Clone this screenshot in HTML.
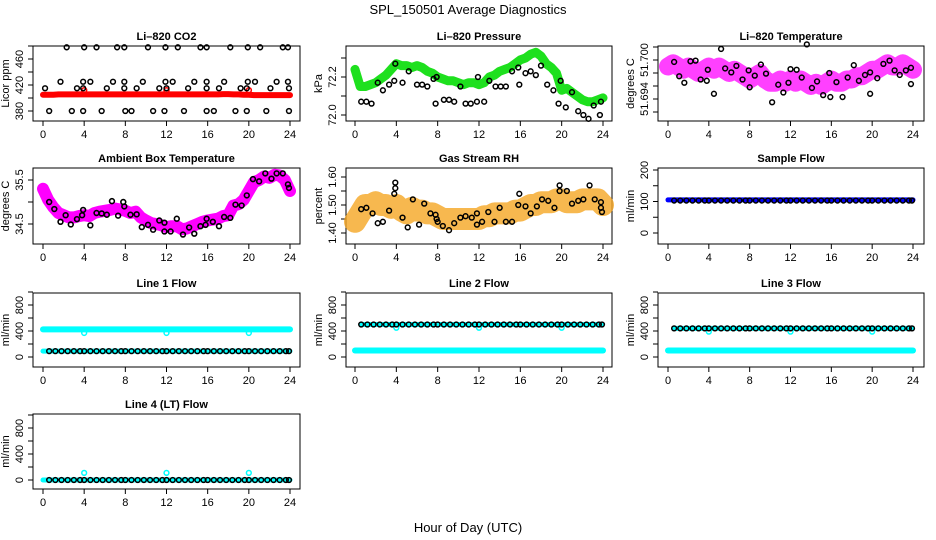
<!DOCTYPE html>
<html><head><meta charset="utf-8"><style>
html,body{margin:0;padding:0;background:#fff;}
svg{display:block;font-family:"Liberation Sans",Arial,sans-serif;}
</style></head><body>
<svg id="chart" width="936" height="540" viewBox="0 0 936 540">
<text x="468" y="14" text-anchor="middle" font-size="13">SPL_150501  Average Diagnostics</text>
<text x="468" y="532" text-anchor="middle" font-size="13">Hour of Day (UTC)</text>
</svg>
<script>
const hourTicks=[0,4,8,12,16,20,24];
const halfHours=[0,0.5,1,1.5,2,2.5,3,3.5,4,4.5,5,5.5,6,6.5,7,7.5,8,8.5,9,9.5,10,10.5,11,11.5,12,12.5,13,13.5,14,14.5,15,15.5,16,16.5,17,17.5,18,18.5,19,19.5,20,20.5,21,21.5,22,22.5,23,23.5,24];
const co2BlackX=[2.3,4.0,5.2,7.2,7.9,10.2,11.9,13.1,15.3,15.9,18.2,19.9,21.1,23.3,23.8,0.2,3.3,3.9,6.2,7.9,9.1,11.3,12.0,14.1,15.9,17.1,19.2,19.8,22.1,23.9,1.7,3.9,4.6,6.8,7.9,9.7,11.9,12.6,14.7,15.9,17.6,19.9,20.6,22.7,23.8,0.6,2.8,3.9,5.7,8.0,8.6,10.7,11.8,13.7,15.9,16.6,18.7,19.8,21.7,23.9];
const co2BlackY=[478,478,478,478,478,478,478,478,478,478,478,478,478,478,478,415,415,415,415,415,415,415,415,415,415,415,415,415,415,415,425,425,425,425,425,425,425,425,425,425,425,425,425,425,425,380,380,380,380,380,380,380,380,380,380,380,380,380,380,380];
const co2Red=[405,405,405,405.5,405.5,405.5,405.5,405.5,405.5,405.5,405.5,405.5,405.5,405.5,405.5,405.5,405.5,405.5,405.5,405.5,405.5,405.5,405.5,405.5,405.5,405.5,405.5,405.5,405.5,405.5,405.5,405.5,405.5,405.5,405.5,406,406,405.5,405.5,405,405,404.5,404.5,404.5,404.5,404.5,404.5,404.5,404.5];
const co2RedOutX=[4,12,20];
const co2RedOutY=[412,412,412];
const presGreen=[72.24,72.15,72.15,72.16,72.17,72.19,72.21,72.24,72.27,72.26,72.26,72.25,72.26,72.25,72.23,72.22,72.2,72.19,72.18,72.18,72.17,72.16,72.17,72.17,72.16,72.17,72.2,72.21,72.23,72.24,72.25,72.27,72.29,72.3,72.32,72.33,72.31,72.27,72.25,72.22,72.13,72.14,72.12,72.1,72.08,72.07,72.07,72.08,72.09];
const presBlackX=[0.6,1.1,1.6,2.2,2.7,3.3,3.8,3.9,4.6,5.2,6.0,6.5,7.0,7.6,7.8,7.9,8.6,9.1,9.6,10.2,10.7,11.2,11.8,11.9,12.5,13.0,13.6,14.1,14.6,15.2,15.8,15.9,16.5,17.0,17.5,18.0,18.6,19.2,19.7,19.9,20.4,21.0,21.6,22.1,22.6,23.1,23.7,23.8];
const presBlackY=[72.07,72.07,72.06,72.17,72.13,72.16,72.18,72.27,72.17,72.23,72.16,72.16,72.15,72.19,72.06,72.2,72.08,72.08,72.07,72.15,72.06,72.06,72.07,72.2,72.07,72.18,72.15,72.15,72.15,72.23,72.25,72.16,72.22,72.23,72.21,72.26,72.16,72.13,72.06,72.18,72.04,72.12,72.02,72.0,71.98,72.05,72.0,72.07];
const tempMag=[51.699,51.6995,51.699,51.6985,51.699,51.6985,51.698,51.6985,51.699,51.6985,51.699,51.6985,51.698,51.6985,51.698,51.6975,51.697,51.6975,51.698,51.697,51.6965,51.6965,51.697,51.6965,51.697,51.6965,51.697,51.6965,51.696,51.6965,51.696,51.6965,51.697,51.6965,51.6965,51.697,51.697,51.6975,51.6975,51.698,51.6985,51.6985,51.699,51.6995,51.699,51.699,51.6995,51.699,51.6985];
const tempBlackX=[0.6,1.1,1.6,2.2,2.7,3.2,3.8,3.9,4.5,5.2,5.6,6.2,6.7,7.3,7.9,8.0,8.5,9.1,9.6,10.2,10.8,11.3,11.8,12.0,12.6,13.1,13.6,14.1,14.6,15.2,15.8,15.9,16.5,17.1,17.6,18.2,18.7,19.3,19.8,19.8,20.5,21.1,21.7,22.2,22.7,23.3,23.8,23.8];
const tempBlackY=[51.6997,51.6975,51.6965,51.6998,51.6999,51.697,51.6968,51.6985,51.6948,51.7017,51.6987,51.6981,51.6991,51.697,51.6984,51.6958,51.6976,51.6993,51.6979,51.6935,51.6962,51.695,51.6965,51.6986,51.6985,51.6973,51.7024,51.6957,51.6967,51.6946,51.698,51.6943,51.6966,51.6943,51.6973,51.6992,51.6968,51.6977,51.6981,51.6948,51.6972,51.6994,51.6999,51.6984,51.6977,51.6984,51.6988,51.6963];
const ambMag=[35.3,35.05,34.88,34.75,34.7,34.65,34.65,34.68,34.7,34.68,34.75,34.78,34.8,34.82,34.85,34.83,34.8,34.75,34.78,34.65,34.58,34.52,34.5,34.47,34.43,34.45,34.45,34.38,34.4,34.45,34.5,34.55,34.58,34.6,34.62,34.68,34.7,34.92,34.95,35.05,35.25,35.45,35.5,35.58,35.55,35.62,35.6,35.5,35.25];
const ambBlackX=[0.6,1.1,1.7,2.2,2.7,3.3,3.8,3.9,4.6,5.2,5.7,6.2,6.7,7.3,7.8,7.9,8.5,9.1,9.6,10.2,10.7,11.3,11.8,11.8,12.4,13.0,13.6,14.2,14.7,15.3,15.8,15.9,16.5,17.1,17.6,18.2,18.7,19.3,19.8,20.4,21.0,21.6,22.2,22.7,23.3,23.8,23.9];
const ambBlackY=[35.0,34.84,34.55,34.7,34.49,34.61,34.7,34.82,34.47,34.75,34.74,34.71,35.02,34.69,35.0,34.9,34.71,34.72,34.43,34.48,34.37,34.58,34.53,34.33,34.33,34.62,34.26,34.42,34.28,34.45,34.48,34.62,34.55,34.45,34.66,34.64,34.94,34.92,35.15,35.52,35.47,35.65,35.53,35.65,35.65,35.4,35.32];
const rhOrange=[1.44,1.47,1.5,1.5,1.51,1.5,1.5,1.49,1.5,1.48,1.47,1.49,1.48,1.48,1.47,1.47,1.46,1.45,1.45,1.45,1.45,1.45,1.45,1.45,1.45,1.46,1.46,1.47,1.47,1.47,1.47,1.48,1.48,1.49,1.5,1.5,1.51,1.51,1.51,1.52,1.52,1.51,1.51,1.51,1.52,1.52,1.52,1.52,1.5];
const rhBlackX=[0.6,1.1,1.7,2.2,2.7,3.3,3.8,3.9,3.9,4.6,5.1,5.6,6.2,6.7,7.3,7.8,7.9,8.0,8.5,9.1,9.6,10.2,10.7,11.3,11.8,11.8,12.3,12.9,13.5,14.0,14.6,15.2,15.8,15.9,16.5,17.0,17.6,18.1,18.7,19.3,19.8,19.8,20.5,21.0,21.6,22.1,22.7,23.2,23.8,23.8,23.9];
const rhBlackY=[1.485,1.49,1.47,1.435,1.44,1.48,1.54,1.56,1.58,1.455,1.42,1.52,1.43,1.505,1.47,1.465,1.45,1.44,1.425,1.41,1.435,1.455,1.46,1.455,1.43,1.47,1.44,1.475,1.44,1.49,1.44,1.44,1.5,1.54,1.495,1.47,1.495,1.52,1.515,1.49,1.57,1.55,1.55,1.505,1.515,1.52,1.57,1.52,1.51,1.49,1.475];
const flowHours=[0.6,1.2,1.8,2.4,3.0,3.6,4.0,4.6,5.2,5.8,6.4,7.0,7.6,8.0,8.6,9.2,9.8,10.4,11.0,11.6,12.0,12.6,13.2,13.8,14.4,15.0,15.6,16.0,16.6,17.2,17.8,18.4,19.0,19.6,20.0,20.6,21.2,21.8,22.4,23.0,23.6,23.9];
const sampleBlue=[105,105,105,105,105,105,105,105,105,105,105,105,105,105,105,105,105,105,105,105,105,105,105,105,105,105,105,105,105,105,105,105,105,105,105,105,105,105,105,105,105,105,105,105,105,105,105,105,105];
const sampleBlack=[103,103,103,103,103,103,103,103,103,103,103,103,103,103,103,103,103,103,103,103,103,103,103,103,103,103,103,103,103,103,103,103,103,103,103,103,103,103,103,103,103,103];
const line1High=[425,425,425,425,425,425,425,425,425,425,425,425,425,425,425,425,425,425,425,425,425,425,425,425,425,425,425,425,425,425,425,425,425,425,425,425,425,425,425,425,425,425,425,425,425,425,425,425,425];
const line1Low=[90,90,90,90,90,90,90,90,90,90,90,90,90,90,90,90,90,90,90,90,90,90,90,90,90,90,90,90,90,90,90,90,90,90,90,90,90,90,90,90,90,90,90,90,90,90,90,90,90];
const line1Black=[90,90,90,90,90,90,90,90,90,90,90,90,90,90,90,90,90,90,90,90,90,90,90,90,90,90,90,90,90,90,90,90,90,90,90,90,90,90,90,90,90,90];
const line2Black=[500,500,500,500,500,500,500,500,500,500,500,500,500,500,500,500,500,500,500,500,500,500,500,500,500,500,500,500,500,500,500,500,500,500,500,500,500,500,500,500,500,500];
const line2Low=[100,100,100,100,100,100,100,100,100,100,100,100,100,100,100,100,100,100,100,100,100,100,100,100,100,100,100,100,100,100,100,100,100,100,100,100,100,100,100,100,100,100,100,100,100,100,100,100,100];
const line3Black=[440,440,440,440,440,440,440,440,440,440,440,440,440,440,440,440,440,440,440,440,440,440,440,440,440,440,440,440,440,440,440,440,440,440,440,440,440,440,440,440,440,440];
const line4Black=[0,0,0,0,0,0,0,0,0,0,0,0,0,0,0,0,0,0,0,0,0,0,0,0,0,0,0,0,0,0,0,0,0,0,0,0,0,0,0,0,0,0];
const line4Low=[0,0,0,0,0,0,0,0,0,0,0,0,0,0,0,0,0,0,0,0,0,0,0,0,0,0,0,0,0,0,0,0,0,0,0,0,0,0,0,0,0,0,0,0,0,0,0,0,0];
const dipHours=[4,12,20];
const line1Dip=[370,370,370];
const line2Dip=[450,450,450];
const line3Dip=[390,390,390];
const line4Spike=[110,110,110];

const NS='http://www.w3.org/2000/svg';
const svg=document.getElementById('chart');
function mk(tag,attrs,parent){const e=document.createElementNS(NS,tag);for(const k in attrs)e.setAttribute(k,attrs[k]);(parent||svg).appendChild(e);return e;}
const cols=[{l:33,r:300,h0:43,h24:290},{l:346,r:612,h0:355,h24:603},{l:658,r:924,h0:668,h24:913}];
const rows=[{t:46,b:121},{t:168,b:244},{t:293,b:367},{t:414,b:489}];
function panel(name,title,c,r,v1,p1,v2,p2,ticks,labels,dec,ylab){
  const C=cols[c],R=rows[r];
  const g=mk('g',{});
  
  
  const xs=h=>C.h0+(h/24)*(C.h24-C.h0);
  const ys=v=>p1+(v-v1)*(p2-p1)/(v2-v1);
  const t=mk('text',{x:(C.l+C.r)/2,y:R.t-6,'text-anchor':'middle','font-size':11,'font-weight':'bold'},g);t.textContent=title;
  
  
  const box=mk('rect',{x:C.l,y:R.t,width:C.r-C.l,height:R.b-R.t,fill:'none',stroke:'#000','stroke-width':1},g);
  
  
  hourTicks.forEach(h=>{const x=xs(h);mk('line',{x1:x,x2:x,y1:R.b,y2:R.b+5,stroke:'#000'},g);
    const tl=mk('text',{x:x,y:R.b+17,'text-anchor':'middle','font-size':11},g);tl.textContent=h;
    
    });
  ticks.forEach(v=>{const y=ys(v);mk('line',{x1:C.l-5,x2:C.l,y1:y,y2:y,stroke:'#000'},g);});
  labels.forEach(v=>{const y=ys(v);const lx=C.l-10;
    const tl=mk('text',{x:lx,y:y,'text-anchor':'middle','font-size':11,transform:`rotate(-90 ${lx} ${y})`},g);tl.textContent=v.toFixed(dec);
    
    });
  const yx=C.l-24,ym=(R.t+R.b)/2;
  const yl=mk('text',{x:yx,y:ym,'text-anchor':'middle','font-size':11,transform:`rotate(-90 ${yx} ${ym})`},g);yl.textContent=ylab;
  
  
  return {g,xs,ys};
}
function band(P,hours,vals,color,w,op){
  const pts=hours.map((h,i)=>P.xs(h)+','+P.ys(vals[i])).join(' ');
  const e=mk('polyline',{points:pts,fill:'none',stroke:color,'stroke-width':w,'stroke-linejoin':'round','stroke-linecap':'round','stroke-opacity':op||1},P.g);
  
  
}
function points(P,hours,vals,color,r,sw){
  hours.forEach((h,i)=>{const e=mk('circle',{cx:P.xs(h),cy:P.ys(vals[i]),r:r,fill:'none',stroke:color,'stroke-width':sw},P.g);
    
    });
}
let P;
P=panel('co2-panel','Li–820 CO2',0,0,460,59,380,111,[380,400,420,440,460,480],[380,420,460],0,'Licor ppm');
band(P,halfHours,co2Red,'#f00',6);points(P,co2RedOutX,co2RedOutY,'#f00',2.5,1.5);points(P,co2BlackX,co2BlackY,'#000',2.4,1.5);
P=panel('pressure-panel','Li–820 Pressure',1,0,72.2,77,72.0,115,[72.0,72.1,72.2,72.3],[72.0,72.2],1,'kPa');
band(P,halfHours,presGreen,'#1ee01e',9);points(P,presBlackX,presBlackY,'#000',2.4,1.5);
P=panel('temperature-panel','Li–820 Temperature',2,0,51.700,60,51.694,99,[51.692,51.694,51.696,51.698,51.700,51.702],[51.694,51.700],3,'degrees C');
band(P,halfHours,tempMag,'#f0f',18,0.75);points(P,tempBlackX,tempBlackY,'#000',2.4,1.5);
P=panel('ambient-panel','Ambient Box Temperature',0,1,35.5,180,34.5,224,[34.5,35.0,35.5],[34.5,35.5],1,'degrees C');
band(P,halfHours,ambMag,'#f0f',12);points(P,ambBlackX,ambBlackY,'#000',2.4,1.6);
P=panel('rh-panel','Gas Stream RH',1,1,1.60,177,1.40,233,[1.40,1.45,1.50,1.55,1.60],[1.40,1.50,1.60],2,'percent');
band(P,halfHours,rhOrange,'#f5a623',22,0.8);points(P,rhBlackX,rhBlackY,'#000',2.4,1.5);
P=panel('sample-flow-panel','Sample Flow',2,1,200,170,0,233,[0,50,100,150,200],[0,100,200],0,'ml/min');
band(P,halfHours,sampleBlue,'#00f',5);points(P,flowHours,sampleBlack,'#000',2.4,1.5);
P=panel('line1-flow-panel','Line 1 Flow',0,2,800,305,0,357,[0,200,400,600,800,1000],[0,400,800],0,'ml/min');
band(P,halfHours,line1High,'#0ff',6);points(P,dipHours,line1Dip,'#0ff',2.4,1.5);band(P,halfHours,line1Low,'#0ff',5);points(P,flowHours,line1Black,'#000',2.4,1.5);
P=panel('line2-flow-panel','Line 2 Flow',1,2,800,305,0,357,[0,200,400,600,800,1000],[0,400,800],0,'ml/min');
band(P,halfHours,line2Low,'#0ff',6);band(P,flowHours,line2Black,'#0ff',5);points(P,dipHours,line2Dip,'#0ff',2.4,1.5);points(P,flowHours,line2Black,'#000',2.4,1.5);
P=panel('line3-flow-panel','Line 3 Flow',2,2,800,305,0,357,[0,200,400,600,800,1000],[0,400,800],0,'ml/min');
band(P,halfHours,line2Low,'#0ff',6);band(P,flowHours,line3Black,'#0ff',5);points(P,dipHours,line3Dip,'#0ff',2.4,1.5);points(P,flowHours,line3Black,'#000',2.4,1.5);
P=panel('line4-flow-panel','Line 4 (LT) Flow',0,3,800,428,0,480,[0,200,400,600,800,1000],[0,400,800],0,'ml/min');
band(P,halfHours,line4Low,'#0ff',5);points(P,dipHours,line4Spike,'#0ff',2.4,1.5);points(P,flowHours,line4Black,'#000',2.4,1.5);
</script>
</body></html>
